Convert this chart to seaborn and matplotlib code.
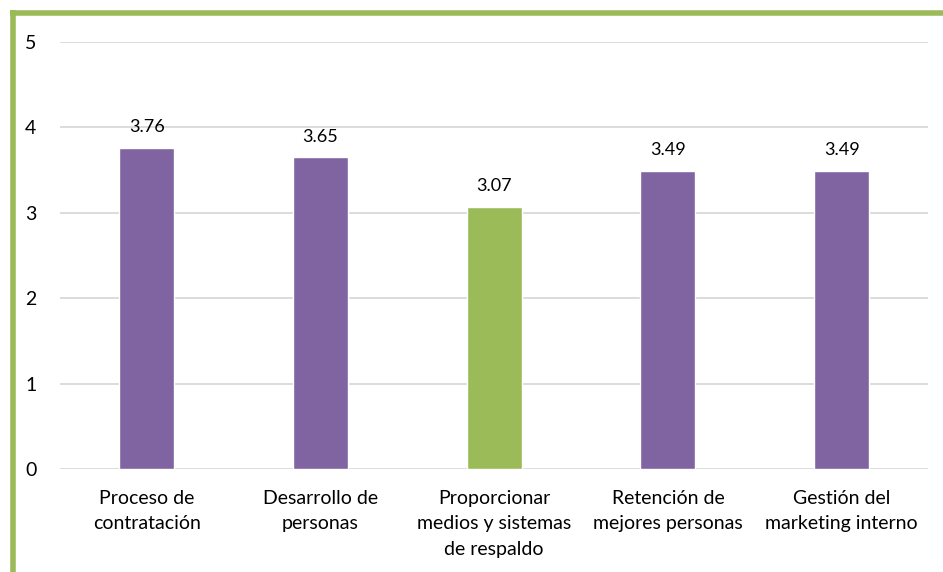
import matplotlib
matplotlib.use("Agg")
import matplotlib.pyplot as plt
import seaborn as sns
import pandas as pd
from matplotlib.lines import Line2D

categories = ["Proceso de\ncontratación", "Desarrollo de\npersonas",
              "Proporcionar\nmedios y sistemas\nde respaldo",
              "Retención de\nmejores personas", "Gestión del\nmarketing interno"]
values = [3.76, 3.65, 3.07, 3.49, 3.49]
colors = ["#8064A2", "#8064A2", "#9BBB59", "#8064A2", "#8064A2"]
yticks = [0, 1, 2, 3, 4, 5]

sns.set_theme(style="white")
plt.rcParams["font.family"] = ["Lato", "DejaVu Sans"]

df = pd.DataFrame({"cat": categories, "val": values})
fig = plt.figure(figsize=(9.43, 5.72), dpi=100)
ax = fig.add_axes([0.0636, 0.18, 0.921, 0.7466])
sns.barplot(data=df, x="cat", y="val", hue="cat", palette=colors, legend=False,
            width=0.316, ax=ax, saturation=1)
ax.set_xlim(-0.5, 4.5)
ax.set_ylim(0, 5)
ax.set_yticks(yticks)
ax.set_xticks(range(len(categories)), labels=categories, linespacing=1.6)
ax.yaxis.grid(True, color="#D9D9D9", linewidth=1.3)
ax.set_axisbelow(True)
for s in ax.spines.values():
    s.set_visible(False)
ax.set_xlabel("")
ax.set_ylabel("")
ax.tick_params(axis="y", length=0, pad=17, labelsize=14, labelcolor="black")
ax.tick_params(axis="x", length=0, pad=15, labelsize=14, labelcolor="black")
for c in ax.containers:
    ax.bar_label(c, labels=[f"{v:.2f}" for v in c.datavalues], padding=9, fontsize=13, color="black")

fig.add_artist(Line2D([12.5/943, 12.5/943], [0, 1 - 10/572], transform=fig.transFigure,
                      color="#9BBB59", linewidth=4, solid_capstyle="butt"))
fig.add_artist(Line2D([10/943, 1], [1 - 12.5/572, 1 - 12.5/572], transform=fig.transFigure,
                      color="#9BBB59", linewidth=4, solid_capstyle="butt"))
fig.savefig("out.png", dpi=100)
